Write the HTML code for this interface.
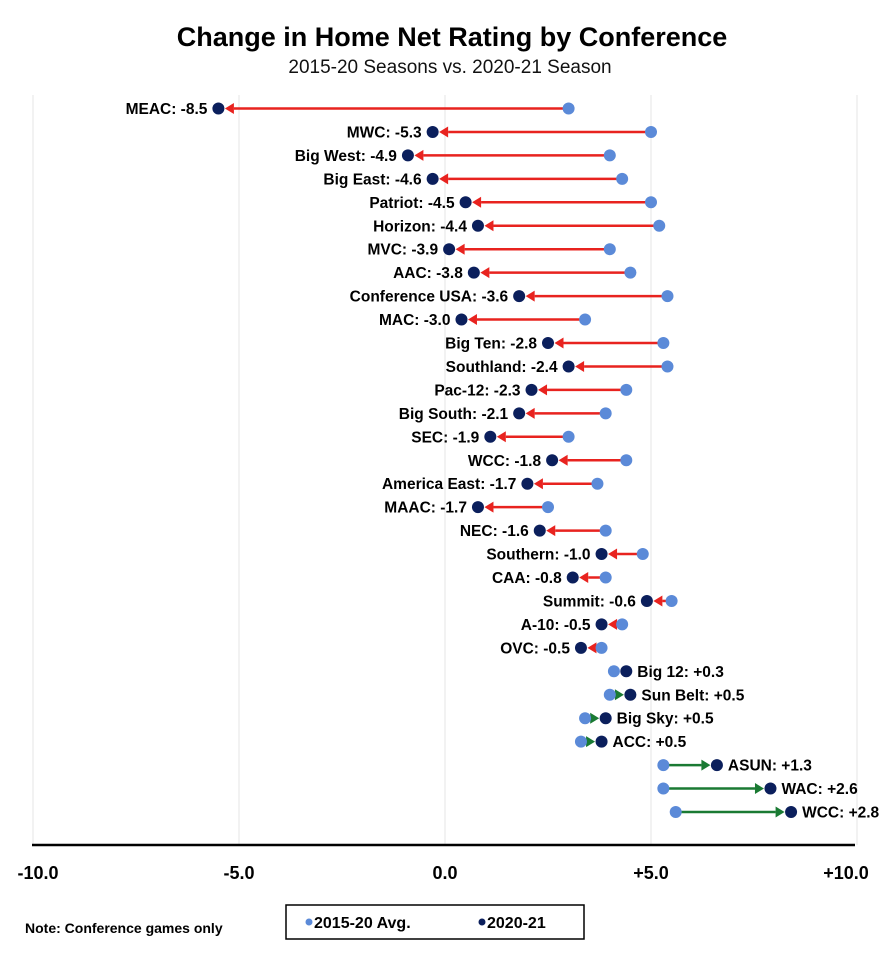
<!DOCTYPE html>
<html><head><meta charset="utf-8">
<style>
body{margin:0;background:#fff;}
svg{display:block;font-family:"Liberation Sans",sans-serif;}
</style></head>
<body>
<svg id="chart" width="894" height="958">
<text x="452" y="46" text-anchor="middle" font-size="27" font-weight="bold" fill="#000">Change in Home Net Rating by Conference</text>
<text x="450" y="73" text-anchor="middle" font-size="19" fill="#111">2015-20 Seasons vs. 2020-21 Season</text>
<g id="grid"></g>
<g id="marks"></g>
<line x1="32" y1="845" x2="855" y2="845" stroke="#000" stroke-width="2.5"/>
<g id="ticks"></g>
<text x="25" y="933" font-size="14" font-weight="bold" fill="#000">Note: Conference games only</text>
<g>
<rect x="286" y="905" width="298" height="34" fill="#fff" stroke="#000" stroke-width="1.5"/>
<circle cx="309" cy="922" r="3.5" fill="#5b8ad8"/>
<text x="314" y="928" font-size="16" font-weight="bold" fill="#000">2015-20 Avg.</text>
<circle cx="482" cy="922" r="3.5" fill="#0b1f5c"/>
<text x="487" y="928" font-size="16" font-weight="bold" fill="#000">2020-21</text>
</g>
</svg>
<script>
const conferences=["MEAC","MWC","Big West","Big East","Patriot","Horizon","MVC","AAC","Conference USA","MAC","Big Ten","Southland","Pac-12","Big South","SEC","WCC","America East","MAAC","NEC","Southern","CAA","Summit","A-10","OVC","Big 12","Sun Belt","Big Sky","ACC","ASUN","WAC","WCC"];
const oldValues=[3.0,5.0,4.0,4.3,5.0,5.2,4.0,4.5,5.4,3.4,5.3,5.4,4.4,3.9,3.0,4.4,3.7,2.5,3.9,4.8,3.9,5.5,4.3,3.8,4.1,4.0,3.4,3.3,5.3,5.3,5.6];
const newValues=[-5.5,-0.3,-0.9,-0.3,0.5,0.8,0.1,0.7,1.8,0.4,2.5,3.0,2.1,1.8,1.1,2.6,2.0,0.8,2.3,3.8,3.1,4.9,3.8,3.3,4.4,4.5,3.9,3.8,6.6,7.9,8.4];
const changeLabels=["-8.5","-5.3","-4.9","-4.6","-4.5","-4.4","-3.9","-3.8","-3.6","-3.0","-2.8","-2.4","-2.3","-2.1","-1.9","-1.8","-1.7","-1.7","-1.6","-1.0","-0.8","-0.6","-0.5","-0.5","+0.3","+0.5","+0.5","+0.5","+1.3","+2.6","+2.8"];
const tickValues=[-10,-5,0,5,10];
const tickLabels=["-10.0","-5.0","0.0","+5.0","+10.0"];

const NS="http://www.w3.org/2000/svg";
const xScale=v=>445+v*41.2;
const yScale=i=>108.5+i*23.45;
function mk(tag,attrs,parent){const e=document.createElementNS(NS,tag);for(const k in attrs)e.setAttribute(k,attrs[k]);parent.appendChild(e);return e;}
const grid=document.getElementById('grid'),marks=document.getElementById('marks'),ticks=document.getElementById('ticks');
tickValues.forEach((t,i)=>{
  const gl=mk('line',{x1:xScale(t),x2:xScale(t),y1:95,y2:845,stroke:'#e6e6e6','stroke-width':1},grid);
  
  
  let lx=xScale(t);
  if(i===0)lx+=5;
  if(i===tickValues.length-1)lx-=11;
  const tl=mk('text',{x:lx,y:879,'text-anchor':'middle','font-size':18,'font-weight':'bold',fill:'#000'},ticks);
  tl.textContent=tickLabels[i];
  
  
});
conferences.forEach((c,i)=>{
  const y=yScale(i),xo=xScale(oldValues[i]),xn=xScale(newValues[i]);
  const up=newValues[i]>oldValues[i];
  const col=up?'#1a7a33':'#e8231f';
  const dir=up?1:-1;
  const tip=xn-dir*6.5;
  const base=tip-dir*9;
  const ln=mk('line',{x1:xo,x2:base,y1:y,y2:y,stroke:col,'stroke-width':2.5},marks);
  
  
  const ah=mk('polygon',{points:`${tip},${y} ${base},${y-5.5} ${base},${y+5.5}`,fill:col},marks);
  
  
  const po=mk('circle',{cx:xo,cy:y,r:6,fill:'#5b8ad8'},marks);
  
  
  const pn=mk('circle',{cx:xn,cy:y,r:6,fill:'#0b1f5c'},marks);
  
  
  const lx=up?Math.max(xo,xn)+11:Math.min(xo,xn)-11;
  const lb=mk('text',{x:lx,y:y+5.5,'text-anchor':up?'start':'end','font-size':15.5,'font-weight':'bold',fill:'#000'},marks);
  lb.textContent=c+': '+changeLabels[i];
  
  
});
</script>
</body></html>
